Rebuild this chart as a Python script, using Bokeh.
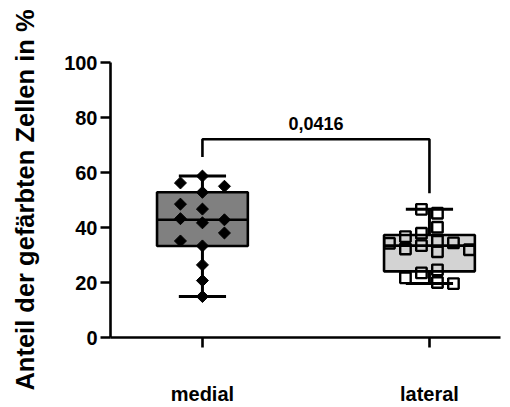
import numpy as np
from bokeh.plotting import figure
from bokeh.models import FixedTicker, Range1d, ColumnDataSource
from bokeh.core.properties import value
from bokeh.embed import file_html
from bokeh.resources import INLINE

# ---------------- data ----------------
groups = ["medial", "lateral"]
medial_values = [58.7, 52.8, 56.2, 48.5, 55.0, 46.7, 43.2, 42.8, 41.7, 38.0,
                 33.3, 35.1, 26.4, 20.7, 14.9]
lateral_values = [46.6, 45.2, 40.1, 37.9, 36.7, 35.0, 34.4, 34.3, 33.4, 32.2,
                  31.9, 31.2, 24.6, 23.5, 21.7, 20.0, 19.6]
p_value_text = "0,0416"
y_ticks = [0, 20, 40, 60, 80, 100]
y_label = "Anteil der gefärbten Zellen in %"

# ---------------- layout constants ----------------
W, H = 510, 407
BL, BR, BT, BB = 110, 10, 62, 69
FRAME_W = W - BL - BR
FRAME_H = H - BT - BB
X0, X1 = 0.595, 2.313
Y0, Y1 = 0, 100
PX_X = FRAME_W / (X1 - X0)
PX_Y = FRAME_H / (Y1 - Y0)
FONT = "Liberation Sans"

p = figure(width=W, height=H, output_backend="svg", toolbar_location=None,
           x_range=Range1d(X0, X1), y_range=Range1d(Y0, Y1),
           min_border_left=BL, min_border_right=BR,
           min_border_top=BT, min_border_bottom=BB)
p.outline_line_color = None
p.grid.visible = False
p.background_fill_color = "white"


def swarm(vals, step_px, min_px, half, ncols):
    placed = []
    offs = []
    if half:
        base = [(k + 0.5) * step_px for k in range(-(ncols // 2), ncols // 2)]
    else:
        base = [k * step_px for k in range(-(ncols // 2), ncols // 2 + 1)]
    cands = sorted(base, key=lambda c: (round(abs(c), 6), c))
    for v in vals:
        y = v * PX_Y

        def mind(c):
            ds = [np.hypot(c - px, y - py) for px, py in placed]
            return min(ds) if ds else np.inf

        def colgap(c):
            ds = [abs(y - py) for px, py in placed if abs(px - c) < 1e-6]
            return min(ds) if ds else np.inf

        free = [c for c in cands if mind(c) >= min_px]
        if free:
            a = min(abs(c) for c in free)
            same = [c for c in free if abs(abs(c) - a) < 1e-6]
            same.sort(key=lambda c: (colgap(c), c))
            c = same[0]
        else:
            c = max(cands, key=mind)
        placed.append((c, y))
        offs.append(c / PX_X)
    return offs


box_half = 0.2
cap_half = 0.104
fills = ["#808080", "#d3d3d3"]
LW = 2.6

for i, (vals, fill) in enumerate(zip([medial_values, lateral_values], fills)):
    xc = i + 1
    arr = np.array(vals)
    q1, med, q3 = np.percentile(arr, [25, 50, 75], method="weibull")
    lo, hi = arr.min(), arr.max()
    # whiskers
    p.segment(x0=[xc, xc], y0=[lo, q3], x1=[xc, xc], y1=[q1, hi],
              line_color="black", line_width=3)
    p.segment(x0=[xc - cap_half] * 2, y0=[lo, hi], x1=[xc + cap_half] * 2, y1=[lo, hi],
              line_color="black", line_width=3)
    # box
    p.quad(left=[xc - box_half], right=[xc + box_half], bottom=[q1], top=[q3],
           fill_color=fill, line_color="black", line_width=LW)
    p.segment(x0=[xc - box_half], y0=[med], x1=[xc + box_half], y1=[med],
              line_color="black", line_width=LW)

# points
med_off = swarm(medial_values, 22, 13, False, 5)
lat_off = swarm(lateral_values, 16, 11, True, 6)
src_m = ColumnDataSource(dict(x=[1 + o for o in med_off], y=medial_values))
src_l = ColumnDataSource(dict(x=[2 + o for o in lat_off], y=lateral_values))
p.scatter("x", "y", source=src_m, marker="square", size=8.5, angle=np.pi / 4,
          fill_color="black", line_color="black", line_width=1)
p.scatter("x", "y", source=src_l, marker="square", size=10.5,
          fill_alpha=0, line_color="black", line_width=2.4)

# significance bracket
gap_left, gap_right, top_gap = 6.9, 5.9, 13.4
top_y = max(medial_values) + top_gap
p.line(x=[1, 1, 2, 2],
       y=[max(medial_values) + gap_left, top_y, top_y, max(lateral_values) + gap_right],
       line_color="black", line_width=LW)
p.text(x=[1.5], y=[top_y + 5.8], text=[p_value_text], text_align="center",
       text_baseline="middle", text_font=value(FONT), text_font_style="bold",
       text_font_size="18px", text_color="black")

# axes
for ax in (p.xaxis[0], p.yaxis[0]):
    ax.axis_line_width = LW
    ax.axis_line_color = "black"
    ax.major_tick_line_width = LW
    ax.major_tick_line_color = "black"
    ax.major_tick_out = 10
    ax.major_tick_in = 0
    ax.minor_tick_line_color = None
    ax.major_label_text_font = FONT
    ax.major_label_text_font_style = "bold"
    ax.major_label_text_font_size = "20px"
    ax.major_label_text_color = "black"

p.yaxis.ticker = FixedTicker(ticks=y_ticks)
p.yaxis.major_label_standoff = 3
p.yaxis.axis_label = y_label
p.yaxis.axis_label_text_font = FONT
p.yaxis.axis_label_text_font_style = "bold"
p.yaxis.axis_label_text_font_size = "25.5px"
p.yaxis.axis_label_text_color = "black"
p.yaxis.axis_label_standoff = 22

p.xaxis.ticker = FixedTicker(ticks=[1, 2])
p.xaxis.major_label_overrides = {1: groups[0], 2: groups[1]}
p.xaxis.major_label_standoff = 35

open("out.html", "w").write(file_html(p, INLINE))
